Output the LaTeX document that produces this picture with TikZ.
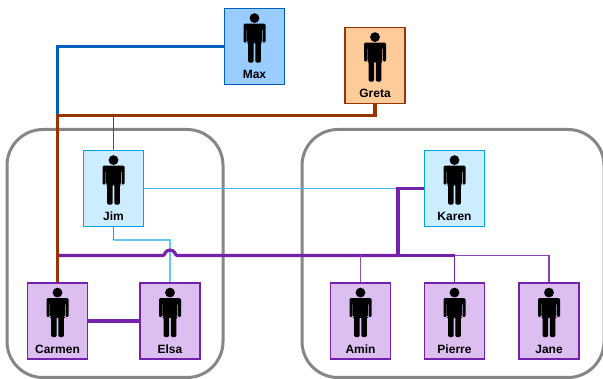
\documentclass[tikz,border=0pt]{standalone}
\usepackage{fontspec}
\setmainfont{Liberation Sans}
\definecolor{maxfill}{HTML}{99CCFF}\definecolor{maxline}{HTML}{0060C0}
\definecolor{gretafill}{HTML}{FFCC99}\definecolor{gretaline}{HTML}{993300}
\definecolor{jimfill}{HTML}{CCECFF}\definecolor{jimline}{HTML}{00A2E8}
\definecolor{purpfill}{HTML}{DCBEF0}\definecolor{purpline}{HTML}{7422AE}
\definecolor{groupline}{HTML}{868686}
\tikzset{
  x=1pt,y=-1pt,
  personbox/.style={rectangle,draw,line width=1.8pt,minimum width=60pt,minimum height=76pt,inner sep=0pt},
  maxbox/.style={personbox,fill=maxfill,draw=maxline},
  gretabox/.style={personbox,fill=gretafill,draw=gretaline},
  jimbox/.style={personbox,fill=jimfill,draw=jimline},
  purpbox/.style={personbox,fill=purpfill,draw=purpline},
  personname/.style={font=\bfseries\fontsize{12}{14}\selectfont,text=black,inner sep=0pt,anchor=base},
  groupbox/.style={draw=groupline,line width=3pt,rounded corners=36pt},
  heavy/.style={line width=3.2pt},
  light/.style={line width=1.2pt},
  pics/figure/.style={code={
    \fill[black] (0,10.5) circle[radius=4.9];
    \fill[black,rounded corners=1.3pt] (-11,16) -- (11,16) -- (11,35) -- (8,35) -- (8,21) -- (7.4,21) -- (7.4,35) -- (6.4,35)
      -- (6.4,55) -- (0.9,55) -- (0.9,35) -- (-0.9,35) -- (-0.9,55) -- (-6.4,55) -- (-6.4,35) -- (-7.4,35) -- (-7.4,21) -- (-8,21) -- (-8,35) -- (-11,35) -- cycle;
  }}
}
\newcommand{\personnode}[5]{%
  \node[#5] (#1) at (#2,#3) {};
  \pic at (#1.north) {figure};
  \node[personname] (#1-name) at ([yshift=-71pt]#1.north) {#4};
}
\begin{document}
\begin{tikzpicture}
\path[use as bounding box] (0,0) rectangle (603,379);
\begin{scope}
\clip (0,0) rectangle (603,379);
\draw[groupbox] (7,129.5) rectangle (223,377.5);
\draw[groupbox] (302,129.5) rectangle (604,377.5);
\end{scope}

\coordinate (trunk) at (57.5,115.5);
\coordinate (bus) at (57.5,255.5);
\coordinate (hopa) at (163,255.5);
\coordinate (hopb) at (177,255.5);
\coordinate (busjoin) at (398,255.5);
\coordinate (jimturn) at (113.5,240);
\coordinate (elsaturn) at (170,240);

\personnode{max}{254.5}{46.5}{Max}{maxbox}
\personnode{greta}{375}{65.5}{Greta}{gretabox}
\personnode{jim}{113.5}{188.5}{Jim}{jimbox}
\personnode{karen}{454.5}{188.5}{Karen}{jimbox}
\personnode{carmen}{57.5}{321}{Carmen}{purpbox}
\personnode{elsa}{170}{321}{Elsa}{purpbox}
\personnode{amin}{360.5}{321}{Amin}{purpbox}
\personnode{pierre}{454.5}{321}{Pierre}{purpbox}
\personnode{jane}{549}{321}{Jane}{purpbox}

\draw[heavy,maxline] (max.west) -| (trunk);
\draw[light,gretaline] (jim.north) -- (jim.north |- trunk);
\draw[light,jimline!75] (jim.east) -- (karen.west);
\draw[light,jimline] (jim.south) -- (jimturn);
\draw[light,jimline!60] (jimturn) -- (elsaturn) -- (elsa.north);
\draw[heavy,purpline] (bus) -- (hopa)
  .. controls (165,255.5) and (164.8,250) .. (170,250)
  .. controls (175.2,250) and (175,255.5) .. (hopb) -- (busjoin);
\draw[heavy,gretaline] (greta.south) |- (trunk) -- (carmen.north);
\draw[heavy,purpline] (karen.west) -| (busjoin);
\draw[heavy,purpline] (carmen.east) -- (elsa.west);
\draw[line width=2.2pt,purpline] (busjoin) -- (pierre.north |- busjoin);
\draw[line width=1.8pt,purpline] (pierre.north |- busjoin) -- (pierre.north);
\draw[line width=1.6pt,purpline!85] (pierre.north |- busjoin) -| (jane.north);
\draw[line width=1.8pt,purpline!80] (amin.north |- busjoin) -- (amin.north);
\end{tikzpicture}
\end{document}
